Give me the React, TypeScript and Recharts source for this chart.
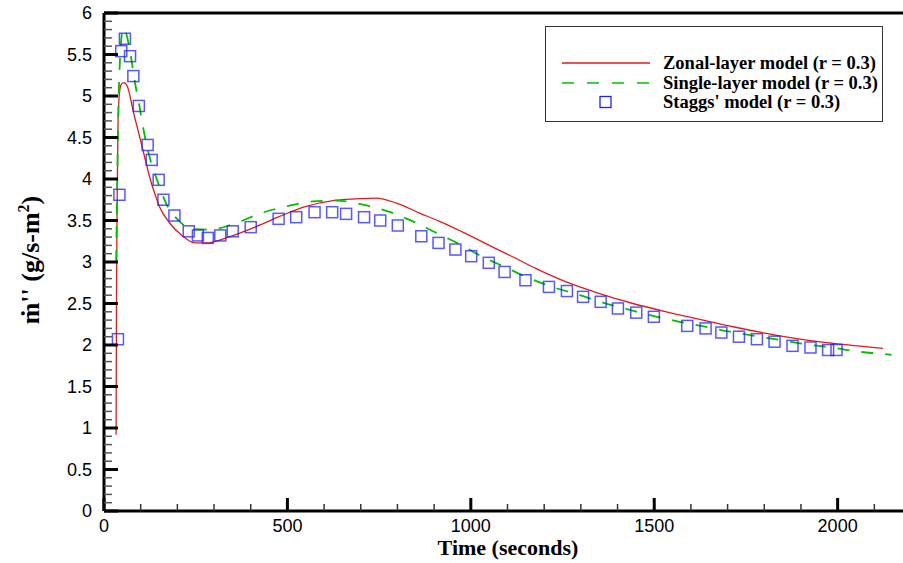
import {
  ComposedChart,
  Line,
  Scatter,
  XAxis,
  YAxis,
  ReferenceLine,
} from "recharts";

// Zonal-layer model (r = 0.3): time (s) and mass loss rate
const zonalTime = [33, 34, 36, 38, 42, 47, 54, 65, 79, 97, 115, 124, 138, 151, 179, 215, 247, 279, 333, 406, 479, 551, 624, 688, 742, 797, 860, 915, 978, 1060, 1115, 1178, 1260, 1351, 1442, 1533, 1624, 1715, 1806, 1897, 1988, 2124];
const zonalRate = [0.92, 2.5, 3.8, 4.6, 5.03, 5.14, 5.16, 5.1, 4.83, 4.51, 4.19, 4.03, 3.83, 3.67, 3.47, 3.31, 3.23, 3.23, 3.29, 3.41, 3.55, 3.67, 3.74, 3.76, 3.77, 3.71, 3.59, 3.49, 3.36, 3.18, 3.06, 2.92, 2.76, 2.62, 2.5, 2.4, 2.31, 2.22, 2.14, 2.07, 2.02, 1.96];

// Single-layer model (r = 0.3)
const singleTime = [33, 36, 38, 42, 45, 53, 60, 74, 83, 97, 108, 124, 147, 171, 206, 238, 288, 360, 429, 497, 569, 633, 706, 774, 842, 904, 967, 1029, 1092, 1156, 1229, 1297, 1360, 1428, 1497, 1570, 1638, 1706, 1774, 1843, 1911, 1983, 2056, 2128, 2147];
const singleRate = [3.0, 3.9, 4.56, 5.28, 5.56, 5.82, 5.76, 5.46, 5.2, 4.87, 4.59, 4.27, 3.96, 3.69, 3.49, 3.4, 3.39, 3.47, 3.59, 3.67, 3.73, 3.74, 3.69, 3.61, 3.49, 3.355, 3.22, 3.07, 2.94, 2.81, 2.69, 2.6, 2.51, 2.43, 2.35, 2.28, 2.22, 2.16, 2.11, 2.06, 2.01, 1.97, 1.92, 1.89, 1.88];

// Staggs' model (r = 0.3)
const staggsTime = [38, 42, 47, 57, 71, 80, 95, 119, 130, 149, 162, 192, 231, 256, 283, 317, 351, 400, 476, 524, 574, 622, 660, 709, 753, 801, 865, 912, 958, 1001, 1049, 1092, 1149, 1213, 1262, 1306, 1354, 1401, 1451, 1499, 1590, 1640, 1683, 1731, 1780, 1828, 1877, 1926, 1974, 1997];
const staggsRate = [2.07, 3.81, 5.54, 5.69, 5.48, 5.24, 4.88, 4.41, 4.23, 3.99, 3.75, 3.56, 3.37, 3.32, 3.29, 3.32, 3.37, 3.42, 3.52, 3.54, 3.6, 3.6, 3.58, 3.54, 3.5, 3.44, 3.31, 3.23, 3.15, 3.07, 2.99, 2.88, 2.78, 2.7, 2.65, 2.58, 2.52, 2.44, 2.39, 2.34, 2.23, 2.2, 2.15, 2.1, 2.07, 2.04, 1.99, 1.97, 1.94, 1.94];

const xTickLabels = [0, 500, 1000, 1500, 2000];
const yTickLabels = [0, 0.5, 1, 1.5, 2, 2.5, 3, 3.5, 4, 4.5, 5, 5.5, 6];
const xTicks = Array.from({ length: 23 }, (_, i) => i * 100);
const yTicks = Array.from({ length: 61 }, (_, i) => Math.round(i * 10) / 100);

const legendItems = [
  { name: "Zonal-layer model (r = 0.3)", kind: "solid" },
  { name: "Single-layer model (r = 0.3)", kind: "dash" },
  { name: "Staggs' model (r = 0.3)", kind: "square" },
];

const zip = (t: number[], v: number[]) => t.map((x, i) => ({ t: x, v: v[i] }));
const zonal = zip(zonalTime, zonalRate);
const single = zip(singleTime, singleRate);
const staggs = zip(staggsTime, staggsRate);

const RED = "#e31a1c";
const GREEN = "#00c000";
const BLUE = "#2020ff";
const tickFont = "'Liberation Sans', Arial, sans-serif";
const titleFont = "'Liberation Serif', 'Times New Roman', serif";

const isMajor = (v: number, list: number[]) => list.some((m) => Math.abs(m - v) < 1e-6);

const YTick = (props: any) => {
  const { x, y, payload } = props;
  const major = isMajor(payload.value, yTickLabels);
  return (
    <g>
      <line x1={x} x2={x + (major ? 14 : 8)} y1={y} y2={y} stroke={major ? "#000" : "#555"} strokeWidth={major ? 3 : 1.5} />
      {major && (
        <text x={x - 12} y={y} dy="0.35em" textAnchor="end" fontFamily={tickFont} fontSize={18} fill="#000">
          {payload.value}
        </text>
      )}
    </g>
  );
};

const XTick = (props: any) => {
  const { x, y, payload } = props;
  const major = isMajor(payload.value, xTickLabels);
  return (
    <g>
      <line x1={x} x2={x} y1={y} y2={y - (major ? 13 : 7)} stroke={major ? "#000" : "#333"} strokeWidth={major ? 3 : 1.5} />
      {major && (
        <text x={x} y={y + 8} dy="0.71em" textAnchor="middle" fontFamily={tickFont} fontSize={18} fill="#000">
          {payload.value}
        </text>
      )}
    </g>
  );
};

const Square = (props: any) => {
  const { cx, cy } = props;
  if (cx == null || cy == null) return null;
  return (
    <rect x={cx - 5.5} y={cy - 5.5} width={11} height={11} fill="none" stroke={BLUE} strokeOpacity={0.75} strokeWidth={1.5} />
  );
};

const Legend = () => (
  <div
    style={{
      position: "absolute",
      left: 545,
      top: 26,
      width: 338,
      height: 96,
      border: "1.5px solid #333",
      background: "#fff",
      boxSizing: "border-box",
    }}
  >
    {legendItems.map((it, i) => (
      <div key={it.name} style={{ position: "absolute", left: 0, top: 26 + i * 19.5, height: 20, width: 400 }}>
        <svg width={110} height={20} style={{ position: "absolute", left: 0, top: 0 }}>
          {it.kind === "solid" && <line x1={16} x2={104} y1={10} y2={10} stroke={RED} strokeWidth={1.3} />}
          {it.kind === "dash" && <line x1={16} x2={104} y1={10} y2={10} stroke={GREEN} strokeWidth={1.3} strokeDasharray="12 13" />}
          {it.kind === "square" && <rect x={54} y={4.5} width={11} height={11} fill="none" stroke={BLUE} strokeWidth={1.3} />}
        </svg>
        <span
          style={{
            position: "absolute",
            left: 117,
            top: 0,
            lineHeight: "20px",
            fontFamily: titleFont,
            fontWeight: "bold",
            fontSize: 18.5,
            whiteSpace: "nowrap",
            color: "#000",
          }}
        >
          {it.name}
        </span>
      </div>
    ))}
  </div>
);

export default function App() {
  return (
    <div style={{ position: "absolute", left: 0, top: 0, width: 903, height: 563, overflow: "hidden", background: "#fff" }}>
      <ComposedChart width={960} height={563} margin={{ top: 13, right: 49, left: 0, bottom: 12 }}>
        <XAxis
          type="number"
          dataKey="t"
          domain={[0, 2200]}
          ticks={xTicks}
          interval={0}
          allowDataOverflow
          tickSize={0}
          tickMargin={0}
          tickLine={false}
          tick={<XTick />}
          height={40}
          axisLine={{ stroke: "#000", strokeWidth: 3 }}
          label={{
            content: () => (
              <text x={508} y={555} textAnchor="middle" fontFamily={titleFont} fontWeight="bold" fontSize={22} fill="#000">
                Time (seconds)
              </text>
            ),
          }}
        />
        <YAxis
          type="number"
          domain={[0, 6]}
          ticks={yTicks}
          interval={0}
          allowDataOverflow
          width={104}
          tickSize={0}
          tickMargin={0}
          tickLine={false}
          tick={<YTick />}
          axisLine={{ stroke: "#000", strokeWidth: 3 }}
          label={{
            content: () => (
              <text
                x={0}
                y={0}
                transform="translate(39 260) rotate(-90)"
                textAnchor="middle"
                fontFamily={titleFont}
                fontWeight="bold"
                fontSize={26}
                fill="#000"
              >
                ṁ'' (g/s-m
                <tspan dy={-10} fontSize={16}>2</tspan>
                <tspan dy={10}>)</tspan>
              </text>
            ),
          }}
        />
        <ReferenceLine y={6} stroke="#000" strokeWidth={3} ifOverflow="visible" />
        <Line
          data={zonal}
          dataKey="v"
          type="monotone"
          stroke={RED}
          strokeWidth={1.3}
          dot={false}
          isAnimationActive={false}
        />
        <Line
          data={single}
          dataKey="v"
          type="monotone"
          stroke={GREEN}
          strokeWidth={1.8}
          strokeDasharray="12 12"
          dot={false}
          isAnimationActive={false}
        />
        <Scatter data={staggs} dataKey="v" shape={<Square />} isAnimationActive={false} />
      </ComposedChart>
      <Legend />
    </div>
  );
}
